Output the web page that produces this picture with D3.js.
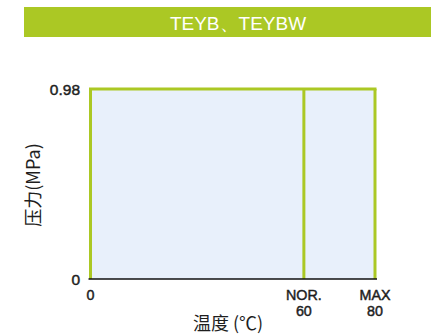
<!DOCTYPE html>
<html><head><meta charset="utf-8">
<script src="https://cdn.jsdelivr.net/npm/d3@7"></script>
<style>html,body{margin:0;padding:0;background:#fff;}svg{display:block;}</style>
</head><body>
<svg id="c" width="431" height="336"></svg>
<script>
const title = "TEYB、TEYBW";
const zones = [[0, 60], [60, 80]];
const pressureMax = 0.98;
const xTicks = [0, 60, 80];
const xTickLabels = [["0"], ["NOR.", "60"], ["MAX", "80"]];
const yTicks = [0, 0.98];
const yTickLabels = ["0", "0.98"];
const xTitle = "温度 (℃)";
const yTitle = "压力(MPa)";

const green = "#abc824";
const fill = "#e8f0fb";
const font = "Liberation Sans, Arial, sans-serif";
const cjk = "Noto Sans CJK SC, sans-serif";
const ink = "#1e1e1e";
const svg = d3.select("#c");

svg.append("rect").attr("x", 24).attr("y", 7).attr("width", 407).attr("height", 30).attr("fill", green);
svg.append("text").attr("x", 238).attr("y", 30).attr("text-anchor", "middle")
  .attr("font-family", font).attr("font-size", 19).attr("fill", "#fff").text(title);

const x = d3.scaleLinear().domain([0, 80]).range([90.5, 375]);
const y = d3.scaleLinear().domain([0, pressureMax]).range([279, 89]);

const g = svg.append("g");
g.selectAll("rect.zone").data(zones).enter().append("rect").attr("class", "zone")
  .attr("x", d => x(d[0])).attr("width", d => x(d[1]) - x(d[0]))
  .attr("y", y(pressureMax)).attr("height", y(0) - y(pressureMax)).attr("fill", fill);

g.append("line").attr("x1", x(0)).attr("x2", x(80)).attr("y1", y(pressureMax)).attr("y2", y(pressureMax))
  .attr("stroke", green).attr("stroke-width", 3).attr("stroke-linecap", "square");
g.selectAll("line.v").data(xTicks).enter().append("line").attr("class", "v")
  .attr("x1", d => x(d)).attr("x2", d => x(d)).attr("y1", y(pressureMax)).attr("y2", y(0))
  .attr("stroke", green).attr("stroke-width", 3);

g.append("line").attr("x1", x(0) - 2).attr("x2", x(80) + 2).attr("y1", y(0)).attr("y2", y(0))
  .attr("stroke", "#111").attr("stroke-width", 1.5);

function styleTick(sel) {
  return sel.attr("font-family", font).attr("font-size", 14.3).attr("fill", ink)
    .attr("stroke", ink).attr("stroke-width", 0.45);
}

styleTick(g.selectAll("text.yt").data(yTicks).enter().append("text").attr("class", "yt")
  .attr("x", 80).attr("y", d => y(d) + 5.5).attr("text-anchor", "end"))
  .attr("font-size", 15.5)
  .text((d, i) => yTickLabels[i]);

const xLines = [];
xTicks.forEach((d, i) => {
  const lines = xTickLabels[i];
  lines.forEach((l, j) => xLines.push({ v: d, text: l, row: lines.length === 1 ? 0 : j }));
});
styleTick(g.selectAll("text.xt").data(xLines).enter().append("text").attr("class", "xt")
  .attr("x", d => x(d.v)).attr("y", d => 299.5 + d.row * 16).attr("text-anchor", "middle"))
  .text(d => d.text);

svg.append("text").attr("x", 228).attr("y", 330).attr("text-anchor", "middle")
  .attr("font-family", cjk).attr("font-size", 18).attr("fill", ink).text(xTitle);
svg.append("text").attr("transform", "translate(40,185) rotate(-90)").attr("text-anchor", "middle")
  .attr("font-family", cjk).attr("font-size", 18).attr("fill", ink).text(yTitle);
</script>
</body></html>
